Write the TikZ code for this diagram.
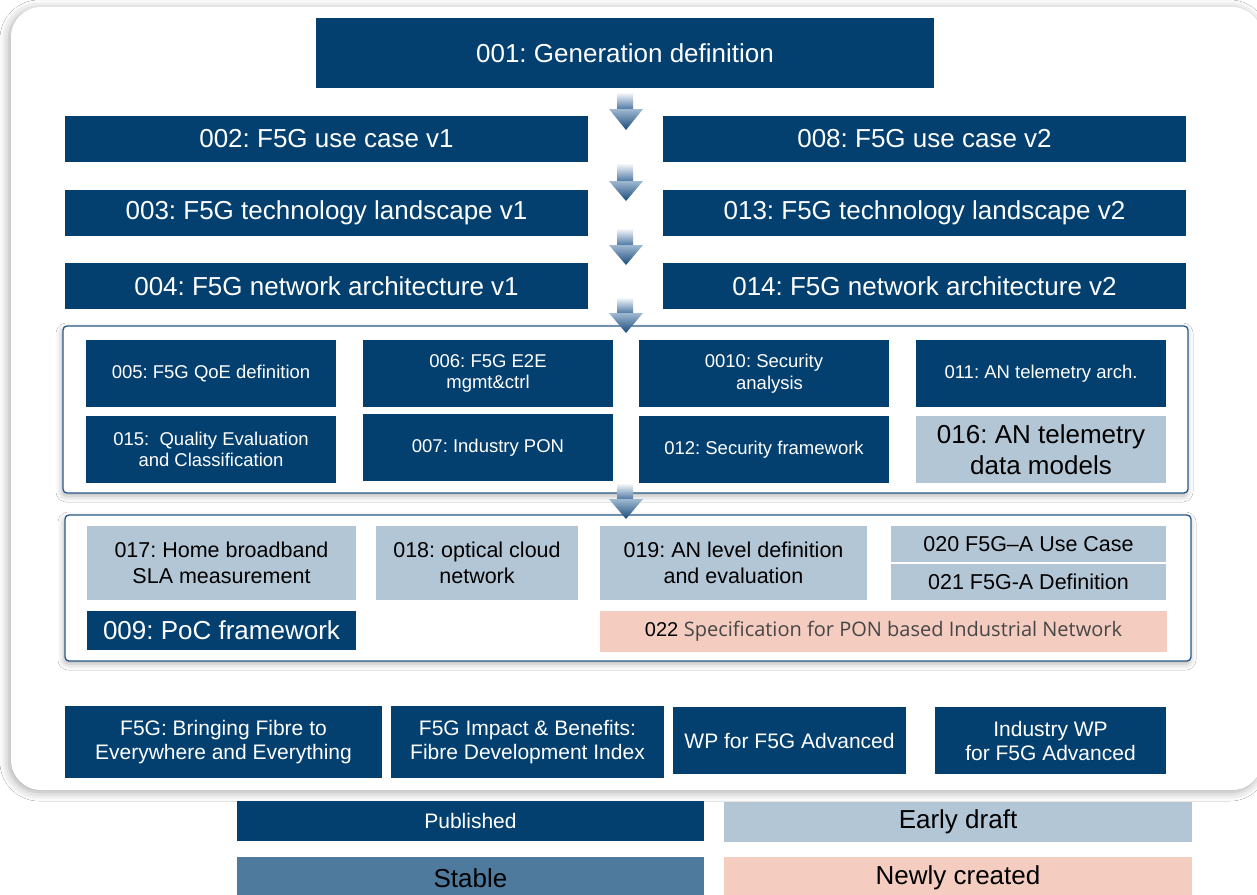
\documentclass[tikz,border=0pt]{standalone}
\usepackage{fontspec}
\setmainfont{Liberation Sans}
\newfontfamily\osans{Open Sans}
\usetikzlibrary{shadows.blur}
\definecolor{dblue}{RGB}{3,64,112}
\definecolor{sblue}{RGB}{78,122,158}
\definecolor{eblue}{RGB}{179,198,214}
\definecolor{npink}{RGB}{244,204,192}
\definecolor{gline}{RGB}{40,88,135}
\definecolor{ogrey}{RGB}{70,70,70}
\definecolor{ashaft}{RGB}{80,120,165}
\definecolor{ahtop}{RGB}{160,185,210}
\definecolor{ahbot}{RGB}{25,75,122}
\frenchspacing
\begin{document}
\begin{tikzpicture}[x=1pt,y=-1pt,
  box/.style={inner sep=0pt, outer sep=0pt, align=center, anchor=center},
  pub/.style={box, fill=dblue, text=white},
  early/.style={box, fill=eblue, text=black},
  stab/.style={box, fill=sblue, text=black},
  newc/.style={box, fill=npink, text=black},
  big/.style={font=\fontsize{26}{31}\selectfont},
  mid/.style={font=\fontsize{21.5}{26.5}\selectfont},
  bot/.style={font=\fontsize{21}{24}\selectfont},
  small/.style={font=\fontsize{18.5}{21.5}\selectfont},
  group/.style={draw=gline, line width=1.3pt, rounded corners=4pt, fill=white,
    blur shadow={shadow xshift=-1pt, shadow yshift=-3pt, shadow blur radius=6pt, shadow opacity=30}},
  outer/.style={fill=white, rounded corners=30pt,
    blur shadow={shadow xshift=-2pt, shadow yshift=-2pt, shadow blur radius=9pt, shadow opacity=35}}]
\useasboundingbox (0,0) rectangle (1257,894);
\fill[white] (0,0) rectangle (1257,894);
% outer panel
\path[outer] (11,7) rectangle (1262,790);
% group panels
\path[group] (63,326) rectangle (1188,493);
\path[group] (65,515) rectangle (1191,661);
% top boxes
\node[pub, big, minimum width=618pt, minimum height=70pt] (n001) at (625,53) {001: Generation definition};
\node[pub, big, minimum width=523pt, minimum height=46pt] (n002) at (326.5,139) {002: F5G use case v1};
\node[pub, big, minimum width=523pt, minimum height=46pt] (n008) at (924.5,139) {008: F5G use case v2};
\node[pub, big, minimum width=523pt, minimum height=46pt] (n003) at (326.5,213) {003: F5G technology landscape v1};
\node[pub, big, minimum width=523pt, minimum height=46pt] (n013) at (924.5,213) {013: F5G technology landscape v2};
\node[pub, big, minimum width=523pt, minimum height=46pt] (n004) at (326.5,286) {004: F5G network architecture v1};
\node[pub, big, minimum width=523pt, minimum height=46pt] (n014) at (924.5,286) {014: F5G network architecture v2};
% group 1
\node[pub, small, minimum width=250pt, minimum height=67pt] (n005) at (211,373.5) {005: F5G QoE definition};
\node[pub, small, minimum width=250pt, minimum height=67pt] (n006) at (488,373.5) {006: F5G E2E\\mgmt\&ctrl};
\node[pub, small, minimum width=250pt, minimum height=67pt] (n010) at (764,373.5) {0010: Security\\\hspace*{0.6em}analysis};
\node[pub, small, minimum width=250pt, minimum height=67pt] (n011) at (1041,373.5) {011: AN telemetry arch.};
\node[pub, small, minimum width=250pt, minimum height=67pt] (n015) at (211,449.5) {015:\ \ Quality Evaluation\\and Classification};
\node[pub, small, minimum width=250pt, minimum height=67pt] (n007) at (488,447.5) {007: Industry PON};
\node[pub, small, minimum width=250pt, minimum height=67pt] (n012) at (764,449.5) {012: Security framework};
\node[early, big, minimum width=250pt, minimum height=67pt] (n016) at (1041,449.5) {016: AN telemetry\\data models};
% group 2
\node[early, mid, minimum width=269pt, minimum height=74pt] (n017) at (221.5,563) {017: Home broadband\\SLA measurement};
\node[early, mid, minimum width=202pt, minimum height=74pt] (n018) at (477,563) {018: optical cloud\\network};
\node[early, mid, minimum width=267pt, minimum height=74pt] (n019) at (733.5,563) {019: AN level definition\\and evaluation};
\node[early, mid, minimum width=275pt, minimum height=36pt] (n020) at (1028.5,544) {020 F5G--A Use Case};
\node[early, mid, minimum width=275pt, minimum height=36pt] (n021) at (1028.5,582) {021 F5G-A Definition};
\node[pub, big, minimum width=269pt, minimum height=39pt] (n009) at (221.5,630.5) {009: PoC framework};
\node[newc, minimum width=567pt, minimum height=41pt] (n022) at (883.5,631) {\fontsize{20}{24}\selectfont 022 {\osans\color{ogrey}Specification for PON based Industrial Network}};
% bottom row
\node[pub, bot, minimum width=317pt, minimum height=72pt] (b1) at (223.5,742) {F5G: Bringing Fibre to\\Everywhere and Everything};
\node[pub, bot, minimum width=273pt, minimum height=72pt] (b2) at (527.5,742) {F5G Impact \& Benefits:\\Fibre Development Index};
\node[pub, bot, minimum width=233pt, minimum height=67pt] (b3) at (789.5,740.5) {WP for F5G Advanced};
\node[pub, bot, minimum width=231pt, minimum height=67pt] (b4) at (1050.5,740.5) {Industry WP\\for F5G Advanced};
% legend
\node[pub, bot, minimum width=467pt, minimum height=40pt] (lpub) at (470.5,821) {Published};
\node[early, big, minimum width=468pt, minimum height=40pt] (learly) at (958,822) {Early draft};
\node[stab, big, minimum width=467pt, minimum height=42pt] (lstab) at (470.5,878) {Stable};
\node[newc, big, minimum width=468pt, minimum height=42pt] (lnew) at (958,878) {Newly created};
% flow arrows
\foreach \t/\h/\p in {92/109/130, 163/181/201, 228/245/265, 297/313/333, 483/499/519}{
  \shade[top color=white, bottom color=ashaft] (617,\t) rectangle (633,\h);
  \shade[top color=ahtop, bottom color=ahbot] (609,\h) -- (643,\h) -- (626,\p) -- cycle;
}
\end{tikzpicture}
\end{document}
